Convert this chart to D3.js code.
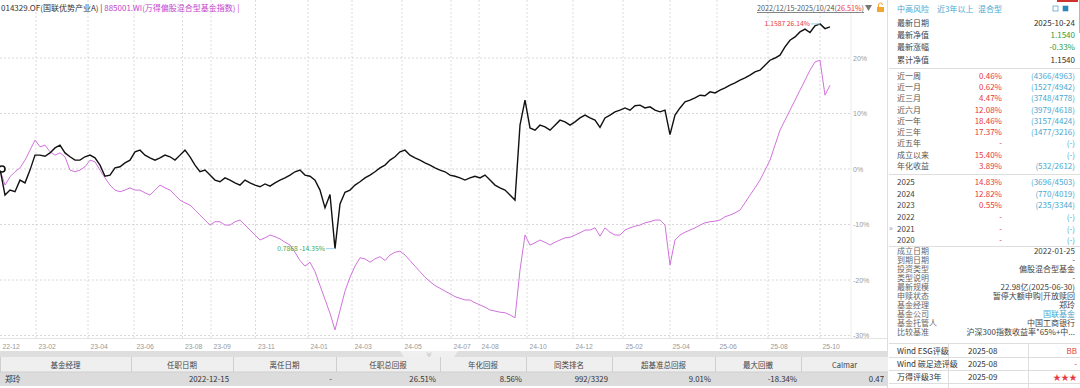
<!DOCTYPE html>
<meta charset="utf-8">
<style>
body { margin: 0; background: #fff; }
svg { display: block; font-family: "Microsoft YaHei", "Noto Sans CJK SC", sans-serif; }
</style>
<svg width="1080" height="388"></svg>
<script src="https://d3js.org/d3.v7.min.js"></script>
<script>

// cumulative return (%) since 2022-12-15, sampled along the trading-day axis
var fundRet = [
  0,-4.7,-3.8,-4.1,-2.0,-2.5,-0.2,2.5,2.5,2.3,
  2.9,3.8,4.3,2.9,2.2,1.6,1.6,2.2,2.5,2.0,
  0.7,-1.3,-1.1,0.2,0.4,1.1,1.6,3.1,3.4,2.5,
  2.0,1.6,2.0,2.5,2.2,1.6,2.5,3.4,2.2,0.7,
  -0.5,-0.2,-1.1,-2.0,-2.3,-1.6,-2.0,-2.5,-2.9,-2.0,
  -2.5,-2.9,-3.2,-2.7,-3.1,-2.5,-2.0,-1.6,-1.1,-0.5,
  -0.2,-1.1,-1.3,-2.0,-3.8,-7.0,-4.6,-14.35,-6.3,-4.2,
  -3.8,-2.9,-2.3,-1.6,-1.1,-0.5,0.2,0.7,1.6,2.2,
  3.1,3.4,2.5,2.0,1.6,1.1,0.7,0.2,-0.2,-0.5,
  -1.1,-1.3,-1.6,-2.0,-1.6,-1.3,-1.6,-1.1,-2.0,-2.9,
  -3.4,-3.8,-4.7,-5.6,7.9,12.4,7.4,7.0,7.9,7.6,
  7.0,7.9,8.8,8.5,7.9,8.5,9.2,9.7,9.2,8.8,
  7.5,9.2,9.7,10.3,10.6,11.0,10.6,11.4,11.5,11.0,
  11.2,10.6,10.3,10.6,6.2,9.7,11.0,12.1,12.4,12.8,
  13.3,13.2,13.9,13.7,14.2,14.6,15.1,15.5,16.0,16.4,
  16.9,17.5,17.8,18.7,19.6,20.0,20.5,22.0,23.2,23.8,
  24.7,25.2,24.6,25.8,26.14,25.3,25.6
];
var benchRet = [
  -0.2,-2.9,-1.4,-0.5,0.2,1.6,3.4,5.2,4.0,4.3,
  3.1,2.5,2.9,2.2,-0.2,-0.5,-0.2,0.4,1.6,1.3,
  -0.2,-1.6,-2.9,-3.8,-4.1,-3.8,-3.4,-3.8,-3.8,-4.3,
  -4.7,-3.8,-2.9,-3.4,-3.8,-4.7,-5.6,-6.1,-6.5,-7.4,
  -8.3,-9.2,-10.1,-9.5,-9.5,-10.1,-10.1,-9.5,-9.2,-10.1,
  -11.0,-11.9,-12.8,-12.4,-11.9,-12.2,-12.6,-13.2,-13.7,-15.0,
  -16.5,-17.5,-16.8,-18.5,-21.0,-23.5,-26.0,-29.0,-25.5,-22.0,
  -19.5,-17.5,-16.0,-16.2,-16.8,-16.2,-15.8,-16.5,-15.5,-15.0,
  -14.8,-15.5,-16.5,-17.5,-18.5,-19.5,-20.3,-21.0,-21.5,-22.0,
  -22.5,-23.0,-23.3,-23.6,-23.6,-24.1,-24.5,-24.9,-25.4,-25.6,
  -25.8,-25.9,-26.3,-26.8,-18.2,-11.9,-13.7,-13.3,-12.8,-13.2,
  -13.7,-13.2,-12.8,-12.4,-12.3,-11.9,-11.5,-11.0,-11.0,-10.6,
  -12.1,-10.6,-11.4,-11.9,-11.9,-11.0,-10.6,-10.3,-10.1,-9.7,
  -9.5,-9.2,-9.2,-10.1,-17.3,-12.8,-11.9,-11.4,-11.0,-10.6,
  -10.1,-9.7,-9.5,-9.4,-9.2,-8.6,-8.3,-7.9,-7.4,-6.1,
  -4.7,-3.4,-2.0,-0.2,1.6,4.3,7.0,8.8,10.6,12.4,
  14.2,16.0,17.8,19.3,19.6,13.3,15.1
];

var tickLabels = ["22-12","23-02","23-04","23-06","23-08","23-09","23-11","24-01","24-03","24-05",
                  "24-07","24-08","24-10","24-12","25-02","25-04","25-06","25-08","25-10"];
var tickIdx = [0,7.2,17.6,26.8,36.5,42.2,51.1,61.6,70.4,80.4,90.2,95.8,105.4,114.6,124.6,134,143.4,153.6,164];
var yTicks = [-30,-20,-10,0,10,20];

var maxLabel = "1.1587 26.14%";
var minLabel = "0.7868 -14.35%";

var mgrHeads = ["基金经理","任职日期","离任日期","任职总回报","年化回报","同类排名","超基准总回报","最大回撤","Calmar"];
var mgrRow = ["郑玲","2022-12-15","-","26.51%","8.56%","992/3329","9.01%","-18.34%","0.47"];

var tags = ["中高风险","近3年以上","混合型"];
var summaryLabels = ["最新日期","最新净值","最新涨幅","累计净值"];
var summaryValues = ["2025-10-24","1.1540","-0.33%","1.1540"];
var periodLabels = ["近一周","近一月","近三月","近六月","近一年","近三年","近五年","成立以来","年化收益"];
var periodReturns = ["0.46%","0.62%","4.47%","12.08%","18.46%","17.37%","-","15.40%","3.89%"];
var periodRanks = ["(4366/4963)","(1527/4942)","(3748/4778)","(3979/4618)","(3157/4424)","(1477/3216)","(-)","(-)","(532/2612)"];
var yearLabels = ["2025","2024","2023","2022","2021","2020"];
var yearReturns = ["14.83%","12.82%","0.55%","-","-","-"];
var yearRanks = ["(3696/4503)","(770/4019)","(235/3344)","(-)","(-)","(-)"];
var infoLabels = ["成立日期","到期日期","投资类型","类型说明","最新规模","申赎状态","基金经理","基金公司","基金托管人","比较基准"];
var infoValues = ["2022-01-25","-","偏股混合型基金","-","22.98亿(2025-06-30)","暂停大额申购|开放赎回","郑玲","国联基金","中国工商银行","沪深300指数收益率*65%+中..."];
var ratingLabels = ["Wind ESG评级","Wind 碳足迹评级","万得评级3年"];
var ratingDates = ["2025-08","2025-08","2025-09"];
var ratingValues = ["BB","-","★★★"];

var svg = d3.select("svg");
var plotW = 830, plotH = 338, gridR = 851;
var red = "#e8383d", blue = "#4aa8cf", green = "#2e9e3e", purple = "#d173dc";

var x = d3.scaleLinear().domain([0, fundRet.length - 1]).range([0, plotW]);
var y = d3.scaleLinear().domain([-30.45, 30.45]).range([plotH, 0]);

// grid
svg.append("g").selectAll("line").data(tickIdx.slice(1)).join("line")
  .attr("x1", d => x(d)).attr("x2", d => x(d))
  .attr("y1", 0).attr("y2", plotH)
  .attr("stroke", "#dcdcdc").attr("stroke-dasharray", "2,2");
svg.append("g").selectAll("line").data(yTicks).join("line")
  .attr("x1", 0).attr("x2", gridR)
  .attr("y1", d => y(d)).attr("y2", d => y(d))
  .attr("stroke", "#d8d8d8").attr("stroke-dasharray", "2,2");
svg.append("line").attr("x1", gridR).attr("x2", gridR).attr("y1", 0).attr("y2", plotH).attr("stroke", "#ececec");
svg.append("line").attr("x1", 0).attr("x2", 887).attr("y1", plotH + 0.5).attr("y2", plotH + 0.5).attr("stroke", "#e4e4e4");
svg.append("line").attr("x1", 887.5).attr("x2", 887.5).attr("y1", 0).attr("y2", 388).attr("stroke", "#dedede");

// axes
var xAxis = svg.append("g").attr("transform", "translate(0," + plotH + ")")
  .call(d3.axisBottom(x).tickValues(tickIdx).tickFormat((d, i) => tickLabels[i]).tickSize(0).tickPadding(6));
xAxis.select(".domain").remove();
xAxis.selectAll("text").attr("text-anchor", "start").attr("dx", 2)
  .attr("fill", "#9a9a9a").style("font-size", "6.8px");

var yAxis = svg.append("g").attr("transform", "translate(" + gridR + ",0)")
  .call(d3.axisRight(y).tickValues(yTicks).tickFormat(d => d + "%").tickSize(0).tickPadding(2));
yAxis.select(".domain").remove();
yAxis.selectAll("text").attr("fill", "#9a9a9a").style("font-size", "7px");

// lines
var line = d3.line().x((d, i) => x(i)).y(d => y(d));
svg.append("path").datum(benchRet).attr("d", line)
  .attr("fill", "none").attr("stroke", purple).attr("stroke-width", 1);
svg.append("path").datum(fundRet).attr("d", line)
  .attr("fill", "none").attr("stroke", "#111").attr("stroke-width", 1.4);
svg.append("circle").attr("cx", x(0) + 2).attr("cy", y(fundRet[0]))
  .attr("r", 3).attr("fill", "#fff").attr("stroke", "#111").attr("stroke-width", 1.6);

// max / min notes
var iMax = d3.maxIndex(fundRet), iMin = d3.minIndex(fundRet);
[[iMax, maxLabel, red], [iMin, minLabel, "#3fa64a"]].forEach(function(n) {
  var px = x(n[0]), py = y(fundRet[n[0]]);
  svg.append("line").attr("x1", px - 9).attr("x2", px).attr("y1", py).attr("y2", py)
    .attr("stroke", "#9fd0ea").attr("stroke-width", 1);
  svg.append("text").attr("x", px - 10).attr("y", py).attr("dy", "0.35em")
    .attr("text-anchor", "end").attr("fill", n[2]).style("font-size", "6.8px").text(n[1]);
});

// title
var title = svg.append("text").attr("x", 1).attr("y", 11).style("font-size", "8px");
title.append("tspan").attr("fill", "#333").text("014329.OF(国联优势产业A) | ");
title.append("tspan").attr("fill", "#c444cc").text("885001.WI(万得偏股混合型基金指数) |");

var range = svg.append("text").attr("x", 864).attr("y", 11).attr("text-anchor", "end")
  .style("font-size", "7.2px").style("text-decoration", "underline").attr("fill", "#555");
range.append("tspan").text("2022/12/15-2025/10/24(");
range.append("tspan").attr("fill", red).text("26.51%");
range.append("tspan").text(")");
svg.append("path").attr("d", "M865,5h7l-3.5,6z").attr("fill", "#777");
svg.append("rect").attr("x", 877).attr("y", 7).attr("width", 7).attr("height", 5).attr("fill", "#f2a531");
svg.append("path").attr("d", "M878.5,7v-2a2,2 0 0 1 4,0").attr("fill", "none").attr("stroke", "#f2a531").attr("stroke-width", 1);

// manager table
var cols = [0, 131, 233, 336, 440, 526, 612, 715, 801, 888];
svg.append("rect").attr("x", 0).attr("y", 351).attr("width", 888).attr("height", 6).attr("fill", "#dedede");
svg.append("path").attr("d", "M400,351h58l-4,6h-50z").attr("fill", "#f0f0f0");
svg.append("path").attr("d", "M427,352.5l2,2l2,-2M427,354.5l2,2l2,-2").attr("fill", "none").attr("stroke", "#999").attr("stroke-width", 0.6);
svg.append("rect").attr("x", 0).attr("y", 357).attr("width", 888).attr("height", 15).attr("fill", "#efefef");
svg.append("rect").attr("x", 0).attr("y", 372).attr("width", 888).attr("height", 14).attr("fill", "#dcdcdc");
svg.append("g").selectAll("line").data(cols.slice(0, -1)).join("line")
  .attr("x1", d => d + 0.5).attr("x2", d => d + 0.5).attr("y1", 357).attr("y2", 372)
  .attr("stroke", "#cfcfcf");
svg.append("line").attr("x1", 0).attr("x2", 888).attr("y1", 372).attr("y2", 372).attr("stroke", "#cfcfcf");
svg.append("g").selectAll("text").data(mgrHeads).join("text")
  .attr("x", (d, i) => (cols[i] + cols[i + 1]) / 2).attr("y", 365).attr("dy", "0.35em")
  .attr("text-anchor", "middle").attr("fill", "#444").style("font-size", "7.5px").text(d => d);
svg.append("g").selectAll("text").data(mgrRow).join("text")
  .attr("x", (d, i) => i === 0 ? 5 : cols[i + 1] - 4).attr("y", 379).attr("dy", "0.35em")
  .attr("text-anchor", (d, i) => i === 0 ? "start" : "end").attr("fill", "#333")
  .style("font-size", "7.8px").text(d => d);

// right panel
var P = svg.append("g").style("font-size", "8px");
var lx = 897, rx = 1075, mx = 1002;
P.append("rect").attr("x", 1057).attr("y", 0).attr("width", 21).attr("height", 2).attr("fill", "#d0312d");
P.append("line").attr("x1", 1079.5).attr("x2", 1079.5).attr("y1", 0).attr("y2", 33).attr("stroke", "#8fc3ee");
var tagX = [897, 937, 978];
P.selectAll(".tag").data(tags).join("text").attr("class", "tag")
  .attr("x", (d, i) => tagX[i]).attr("y", 9).attr("dy", "0.35em").attr("fill", blue).text(d => d);
[1053, 1063].forEach(function(ix, k) {
  P.append("rect").attr("x", ix).attr("y", 6).attr("width", 5).attr("height", 5)
    .attr("fill", k ? "#2d86b8" : "none").attr("stroke", "#2d86b8").attr("stroke-width", 0.6);
});

function rows(lbls, y0, dy, color) {
  P.append("g").selectAll("text").data(lbls).join("text")
    .attr("x", lx).attr("y", (d, i) => y0 + i * dy).attr("dy", "0.35em")
    .attr("fill", color).text(d => d);
}
function vals(v, y0, dy, xr, color) {
  P.append("g").selectAll("text").data(v).join("text")
    .attr("x", xr).attr("y", (d, i) => y0 + i * dy).attr("dy", "0.35em")
    .attr("text-anchor", "end").attr("fill", typeof color === "function" ? color : () => color).text(d => d);
}
function sep(yy) {
  P.append("line").attr("x1", 889).attr("x2", 1080).attr("y1", yy).attr("y2", yy).attr("stroke", "#dedede");
}

rows(summaryLabels, 23, 12.3, "#444");
vals(summaryValues, 23, 12.3, rx, (d, i) => (i === 1 || i === 2) ? green : "#333");
sep(68.5);
rows(periodLabels, 76, 11.25, "#555");
vals(periodReturns, 76, 11.25, mx, red);
vals(periodRanks, 76, 11.25, rx, blue);
sep(174.5);
rows(yearLabels, 182, 11.7, "#444");
vals(yearReturns, 182, 11.7, mx, red);
vals(yearRanks, 182, 11.7, rx, blue);
sep(246.5);
rows(infoLabels, 251, 9, "#666");
vals(infoValues, 251, 9, rx, (d, i) => i === 7 ? blue : "#444");
sep(343.5);
[357.5, 370.5, 383.5].forEach(sep);
[948.5, 1028.5].forEach(function(vx) {
  P.append("line").attr("x1", vx).attr("x2", vx).attr("y1", 344).attr("y2", 388).attr("stroke", "#dedede");
});
rows(ratingLabels, 351, 13, "#333");
P.append("g").selectAll("text").data(ratingDates).join("text")
  .attr("x", 968).attr("y", (d, i) => 351 + i * 13).attr("dy", "0.35em").attr("fill", "#333").text(d => d);
vals(ratingValues, 351, 13, rx + 2, red);
P.append("text").attr("x", 889).attr("y", 228).attr("dy", "0.35em").attr("fill", "#999").text("»");

</script>
